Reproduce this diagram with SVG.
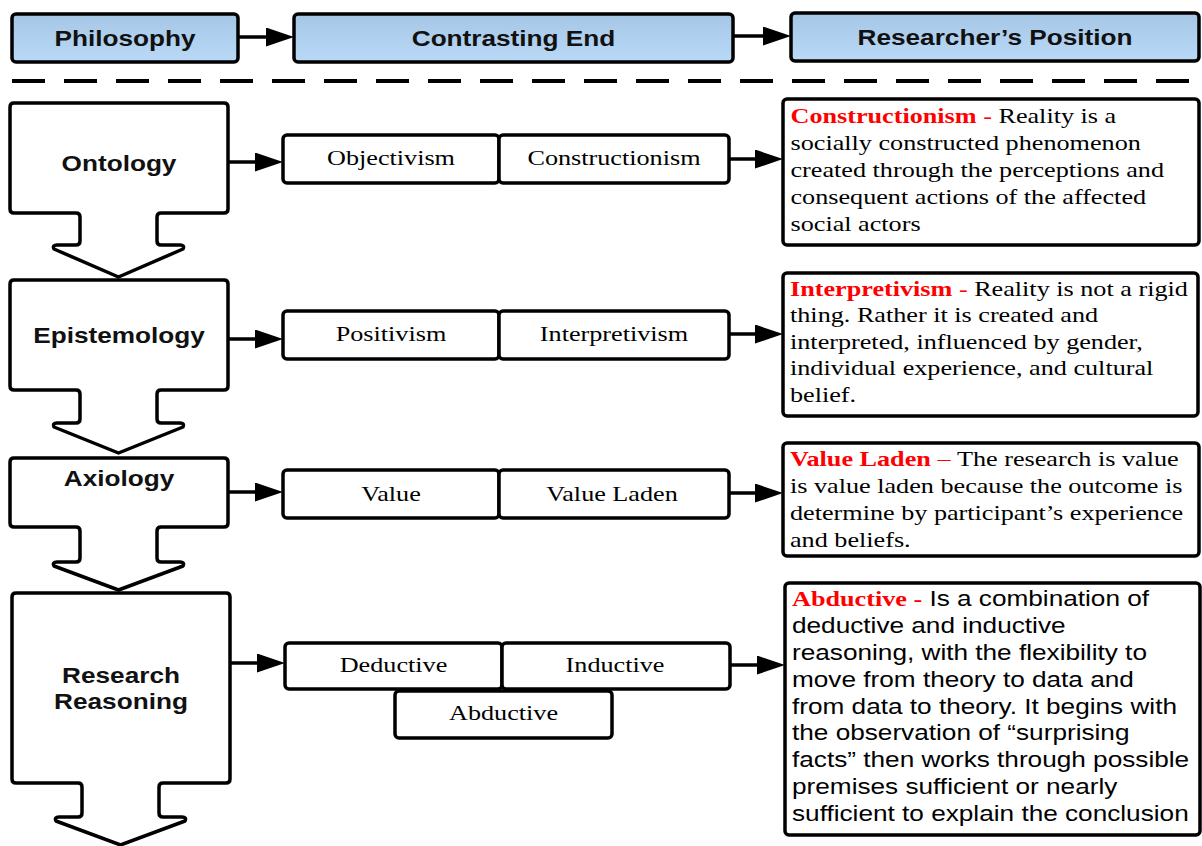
<svg xmlns="http://www.w3.org/2000/svg" width="1202" height="846" viewBox="0 0 1202 846">
  <defs>
    <linearGradient id="headFill" x1="0" y1="0" x2="0" y2="1">
      <stop offset="0" stop-color="#a6c6e6"/>
      <stop offset="1" stop-color="#b9d9f7"/>
    </linearGradient>
    <marker id="arrowHead" viewBox="0 0 28 19" refX="18" refY="9.5" markerWidth="28" markerHeight="19" markerUnits="userSpaceOnUse" orient="auto">
      <path d="M0,0 L28,9.5 L0,19 Z" fill="#000"/>
    </marker>
    <style>
      .head { fill: url(#headFill); stroke: #000; stroke-width: 3.5; }
      .box { fill: #fff; stroke: #000; stroke-width: 3.5; }
      .flow { fill: #fff; stroke: #000; stroke-width: 3.5; stroke-linejoin: round; }
      .conn { stroke: #000; stroke-width: 3.5; fill: none; marker-end: url(#arrowHead); }
      .divider { stroke: #000; stroke-width: 4; stroke-dasharray: 33 19; fill: none; }
      .sansB { font-family: "Liberation Sans", Arial, sans-serif; font-weight: bold; font-size: 22px; fill: #111; }
      .serif { font-family: "Liberation Serif", "Times New Roman", serif; font-size: 22px; fill: #000; }
      .sans { font-family: "Liberation Sans", Arial, sans-serif; font-size: 22px; fill: #000; }
      .key { font-family: "Liberation Serif", "Times New Roman", serif; font-weight: bold; fill: #ff0000; }
      .keyDash { font-family: "Liberation Serif", "Times New Roman", serif; fill: #ff0000; }
    </style>
  </defs>

  <!-- header row -->
  <g id="philosophy">
    <rect class="head" x="12" y="14" width="226" height="48" rx="4"/>
    <text class="sansB" text-anchor="middle" transform="translate(125 46) scale(1.19 1)">Philosophy</text>
  </g>
  <g id="contrasting-end">
    <rect class="head" x="294" y="14" width="439" height="48" rx="4"/>
    <text class="sansB" text-anchor="middle" transform="translate(513.5 46) scale(1.19 1)">Contrasting End</text>
  </g>
  <g id="researchers-position">
    <rect class="head" x="791" y="13" width="408" height="48" rx="4"/>
    <text class="sansB" text-anchor="middle" transform="translate(995 45) scale(1.19 1)">Researcher’s Position</text>
  </g>

  <line class="divider" x1="12" y1="81" x2="1198" y2="81"/>

  <!-- philosophy stages -->
  <g id="ontology">
    <path class="flow" d="M14,103 H224 Q228,103 228,107 V209 Q228,213 224,213 H161 Q157,213 157,217 V241 Q157,245 161,245 H180 Q185,245 183,249 L118.5,277 L54,249 Q52,245 57,245 H76 Q80,245 80,241 V217 Q80,213 76,213 H14 Q10,213 10,209 V107 Q10,103 14,103 Z"/>
    <text class="sansB" text-anchor="middle" transform="translate(119 171) scale(1.19 1)">Ontology</text>
  </g>
  <g id="epistemology">
    <path class="flow" d="M14,280 H224 Q228,280 228,284 V386 Q228,390 224,390 H161 Q157,390 157,394 V419 Q157,423 161,423 H180 Q185,423 183,427 L118.5,453 L54,427 Q52,423 57,423 H76 Q80,423 80,419 V394 Q80,390 76,390 H14 Q10,390 10,386 V284 Q10,280 14,280 Z"/>
    <text class="sansB" text-anchor="middle" transform="translate(119 343) scale(1.19 1)">Epistemology</text>
  </g>
  <g id="axiology">
    <path class="flow" d="M14,458 H224 Q228,458 228,462 V523 Q228,527 224,527 H161 Q157,527 157,531 V558 Q157,562 161,562 H180 Q185,562 183,566 L118.5,590 L54,566 Q52,562 57,562 H76 Q80,562 80,558 V531 Q80,527 76,527 H14 Q10,527 10,523 V462 Q10,458 14,458 Z"/>
    <text class="sansB" text-anchor="middle" transform="translate(119 486) scale(1.19 1)">Axiology</text>
  </g>
  <g id="research-reasoning">
    <path class="flow" d="M16,593 H226 Q230,593 230,597 V779 Q230,783 226,783 H163 Q159,783 159,787 V813 Q159,817 163,817 H182 Q187,817 185,821 L120.5,845 L56,821 Q54,817 59,817 H78 Q82,817 82,813 V787 Q82,783 78,783 H16 Q12,783 12,779 V597 Q12,593 16,593 Z"/>
    <text class="sansB" text-anchor="middle" transform="translate(121 683) scale(1.19 1)">Research</text>
    <text class="sansB" text-anchor="middle" transform="translate(121 709) scale(1.19 1)">Reasoning</text>
  </g>

  <!-- contrasting ends -->
  <g id="objectivism">
    <rect class="box" x="283" y="135" width="216" height="48" rx="4"/>
    <text class="serif" text-anchor="middle" transform="translate(391 165) scale(1.19 1)">Objectivism</text>
  </g>
  <g id="constructionism">
    <rect class="box" x="499" y="135" width="230" height="48" rx="4"/>
    <text class="serif" text-anchor="middle" transform="translate(614 165) scale(1.19 1)">Constructionism</text>
  </g>
  <g id="positivism">
    <rect class="box" x="283" y="311" width="216" height="48" rx="4"/>
    <text class="serif" text-anchor="middle" transform="translate(391 341) scale(1.19 1)">Positivism</text>
  </g>
  <g id="interpretivism">
    <rect class="box" x="499" y="311" width="230" height="48" rx="4"/>
    <text class="serif" text-anchor="middle" transform="translate(614 341) scale(1.19 1)">Interpretivism</text>
  </g>
  <g id="value">
    <rect class="box" x="283" y="470" width="216" height="48" rx="4"/>
    <text class="serif" text-anchor="middle" transform="translate(391 501) scale(1.19 1)">Value</text>
  </g>
  <g id="value-laden">
    <rect class="box" x="499" y="470" width="230" height="48" rx="4"/>
    <text class="serif" text-anchor="middle" transform="translate(612 501) scale(1.19 1)">Value Laden</text>
  </g>
  <g id="deductive">
    <rect class="box" x="285" y="643" width="217" height="46" rx="4"/>
    <text class="serif" text-anchor="middle" transform="translate(393.5 672) scale(1.19 1)">Deductive</text>
  </g>
  <g id="inductive">
    <rect class="box" x="502" y="643" width="228" height="46" rx="4"/>
    <text class="serif" text-anchor="middle" transform="translate(615 672) scale(1.19 1)">Inductive</text>
  </g>
  <g id="abductive">
    <rect class="box" x="395" y="691" width="217" height="47" rx="4"/>
    <text class="serif" text-anchor="middle" transform="translate(503.5 720) scale(1.19 1)">Abductive</text>
  </g>

  <!-- researcher's positions -->
  <g id="position-ontology">
    <rect class="box" x="783" y="99" width="416" height="146" rx="4"/>
    <g class="serif" transform="translate(790.5 0) scale(1.19 1)">
      <text x="0" y="123"><tspan class="key">Constructionism</tspan><tspan class="keyDash"> - </tspan>Reality is a</text>
      <text x="0" y="150">socially constructed phenomenon</text>
      <text x="0" y="177">created through the perceptions and</text>
      <text x="0" y="204">consequent actions of the affected</text>
      <text x="0" y="231">social actors</text>
    </g>
  </g>
  <g id="position-epistemology">
    <rect class="box" x="783" y="273" width="415" height="143" rx="4"/>
    <g class="serif" transform="translate(790 0) scale(1.19 1)">
      <text x="0" y="296"><tspan class="key">Interpretivism</tspan><tspan class="keyDash"> - </tspan>Reality is not a rigid</text>
      <text x="0" y="322.5">thing. Rather it is created and</text>
      <text x="0" y="349">interpreted, influenced by gender,</text>
      <text x="0" y="375.5">individual experience, and cultural</text>
      <text x="0" y="402">belief.</text>
    </g>
  </g>
  <g id="position-axiology">
    <rect class="box" x="783" y="443" width="416" height="113" rx="4"/>
    <g class="serif" transform="translate(790 0) scale(1.19 1)">
      <text x="0" y="466"><tspan class="key">Value Laden</tspan><tspan class="keyDash"> – </tspan>The research is value</text>
      <text x="0" y="493">is value laden because the outcome is</text>
      <text x="0" y="520">determine by participant’s experience</text>
      <text x="0" y="547">and beliefs.</text>
    </g>
  </g>
  <g id="position-reasoning">
    <rect class="box" x="785" y="583" width="415" height="252" rx="4"/>
    <g class="sans" transform="translate(792 0) scale(1.19 1)">
      <text x="0" y="606"><tspan class="key">Abductive -</tspan> Is a combination of</text>
      <text x="0" y="633">deductive and inductive</text>
      <text x="0" y="660">reasoning, with the flexibility to</text>
      <text x="0" y="687">move from theory to data and</text>
      <text x="0" y="714">from data to theory. It begins with</text>
      <text x="0" y="740">the observation of “surprising</text>
      <text x="0" y="767">facts” then works through possible</text>
      <text x="0" y="794">premises sufficient or nearly</text>
      <text x="0" y="821">sufficient to explain the conclusion</text>
    </g>
  </g>

  <!-- connectors -->
  <g id="connectors">
    <line class="conn" x1="238" y1="37" x2="284" y2="37"/>
    <line class="conn" x1="733" y1="36" x2="781" y2="36"/>
    <line class="conn" x1="228" y1="162" x2="273" y2="162"/>
    <line class="conn" x1="729" y1="159" x2="773" y2="159"/>
    <line class="conn" x1="228" y1="339" x2="273" y2="339"/>
    <line class="conn" x1="729" y1="334" x2="773" y2="334"/>
    <line class="conn" x1="228" y1="492" x2="273" y2="492"/>
    <line class="conn" x1="729" y1="493" x2="773" y2="493"/>
    <line class="conn" x1="230" y1="663" x2="275" y2="663"/>
    <line class="conn" x1="730" y1="665" x2="775" y2="665"/>
  </g>
</svg>
